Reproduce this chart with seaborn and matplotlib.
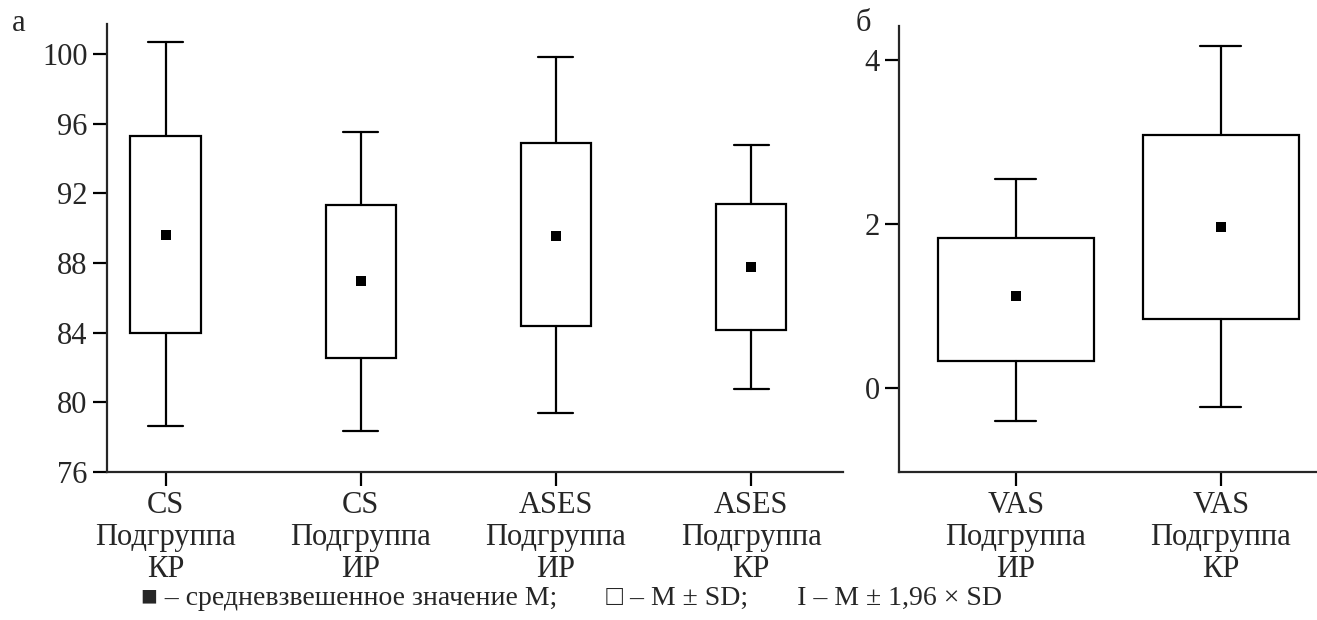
import matplotlib.pyplot as plt
import pandas as pd
import seaborn as sns

# данные: M, границы M ± SD и M ± 1,96 × SD
cat_a = ['CS\nПодгруппа\nКР', 'CS\nПодгруппа\nИР', 'ASES\nПодгруппа\nИР', 'ASES\nПодгруппа\nКР']
mean_a = [89.6, 86.94, 89.56, 87.76]
sd_lo_a = [83.97, 82.54, 84.39, 84.17]
sd_hi_a = [95.26, 91.35, 94.88, 91.39]
ci_lo_a = [78.66, 78.33, 79.39, 80.76]
ci_hi_a = [100.7, 95.54, 99.83, 94.78]

cat_b = ['VAS\nПодгруппа\nИР', 'VAS\nПодгруппа\nКР']
mean_b = [1.12, 1.96]
sd_lo_b = [0.32, 0.84]
sd_hi_b = [1.82, 3.08]
ci_lo_b = [-0.41, -0.24]
ci_hi_b = [2.54, 4.17]

sns.set_style('ticks')
plt.rcParams['font.family'] = ['Liberation Serif', 'DejaVu Serif']
plt.rcParams['axes.linewidth'] = 1.6

fig = plt.figure(figsize=(13.17, 6.2), dpi=100)
ax1 = fig.add_axes([0.0812, 0.2387, 0.5588, 0.7223])
ax2 = fig.add_axes([0.6826, 0.2387, 0.3174, 0.7193])


def draw(ax, cats, mean, sd_lo, sd_hi, ci_lo, ci_hi, width, capw):
    stats = []
    for i in range(len(cats)):
        stats.append(dict(med=mean[i], q1=sd_lo[i], q3=sd_hi[i],
                          whislo=ci_lo[i], whishi=ci_hi[i], fliers=[]))
    lw = 1.6
    ax.bxp(stats, positions=range(len(cats)), widths=width, showfliers=False,
           patch_artist=True,
           boxprops=dict(facecolor='white', edgecolor='black', linewidth=lw),
           whiskerprops=dict(color='black', linewidth=lw),
           capprops=dict(color='black', linewidth=lw),
           medianprops=dict(linewidth=0),
           capwidths=capw)
    # средние значения
    df = pd.DataFrame({'x': range(len(cats)), 'M': mean})
    sns.scatterplot(data=df, x='x', y='M', marker='s', color='black', s=45,
                    edgecolor='black', linewidth=0, ax=ax, zorder=5)
    ax.set_xticks(range(len(cats)))
    ax.set_xticklabels(cats, fontsize=22, linespacing=1.12)
    ax.set_xlabel('')
    ax.set_ylabel('')
    ax.tick_params(axis='both', length=10, width=1.6, labelsize=22, pad=4, color='black')
    sns.despine(ax=ax)


draw(ax1, cat_a, mean_a, sd_lo_a, sd_hi_a, ci_lo_a, ci_hi_a, 0.36, 0.18)
ax1.set_ylim(76, 101.7)
ax1.set_yticks([76, 80, 84, 88, 92, 96, 100])
ax1.set_xlim(-0.3, 3.47)

draw(ax2, cat_b, mean_b, sd_lo_b, sd_hi_b, ci_lo_b, ci_hi_b, 0.76, 0.2)
ax2.set_ylim(-1.03, 4.41)
ax2.set_yticks([0, 2, 4])
ax2.set_xlim(-0.57, 1.47)

fig.text(0.009, 0.962, 'а', fontsize=22, va='center')
fig.text(0.650, 0.962, 'б', fontsize=22, va='center')
fig.text(0.434, 0.034,
         '■ – средневзвешенное значение M;       □ – M ± SD;       I – M ± 1,96 × SD',
         fontsize=20, ha='center', va='center')

plt.savefig('out.png', dpi=100)
